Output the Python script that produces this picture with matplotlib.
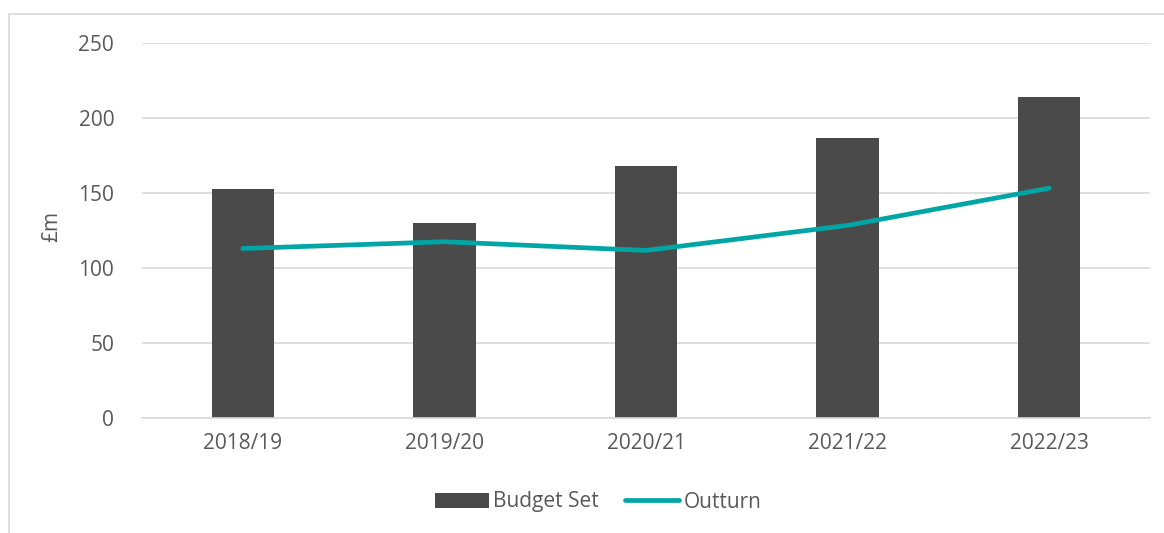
import numpy as np
import matplotlib.pyplot as plt
from matplotlib.patches import Rectangle

# data
years = ['2018/19', '2019/20', '2020/21', '2021/22', '2022/23']
budget_set = [152.4, 130.3, 168.3, 187.0, 213.8]
outturn = [113.0, 117.5, 111.7, 128.4, 153.2]

plt.rcParams['font.family'] = ['Open Sans', 'DejaVu Sans']
txt = '#595959'
bar_col = '#4a4a4a'
line_col = '#00a6a6'
grid_col = '#d9d9d9'

fig = plt.figure(figsize=(11.64, 5.33), dpi=100)
ax = fig.add_axes([142/1164, 1 - 418/533, (1150-142)/1164, (418-43)/533])

# chart area border (only top and left show in the crop)
fig.patches.append(Rectangle((9/1164, -0.1), 1.2, 1 - 14/533 + 0.1,
                             transform=fig.transFigure, fill=False,
                             edgecolor=grid_col, linewidth=1.2))

x = np.arange(len(years))
bars = ax.bar(x, budget_set, width=0.31, color=bar_col, label='Budget Set', zorder=2)
line, = ax.plot(x, outturn, color=line_col, linewidth=3.4, solid_capstyle='round',
                label='Outturn', zorder=3)

ax.set_xlim(-0.5, len(years) - 0.5)
ax.set_ylim(0, 250)
ax.set_yticks(range(0, 251, 50))
ax.set_xticks(x)
ax.set_xticklabels(years)
ax.yaxis.grid(True, color=grid_col, linewidth=1.2, zorder=0)
ax.set_axisbelow(True)
for s in ['top', 'right', 'left']:
    ax.spines[s].set_visible(False)
ax.spines['bottom'].set_color(grid_col)
ax.spines['bottom'].set_linewidth(1.2)
ax.tick_params(axis='both', length=0, labelsize=15, colors=txt)
ax.tick_params(axis='y', pad=20)
ax.tick_params(axis='x', pad=11)
ax.set_ylabel('£m', fontsize=15, color=txt)
ax.yaxis.set_label_coords(-80/1008, 0.51)

fig.legend([bars, line], ['Budget Set', 'Outturn'], loc='center',
           bbox_to_anchor=(598/1164, 1 - 502/533), ncol=2, frameon=False,
           fontsize=15, labelcolor=txt, handlelength=2.6, handleheight=0.7,
           handletextpad=0.2, columnspacing=1.25)

fig.savefig('out.png', dpi=100)
